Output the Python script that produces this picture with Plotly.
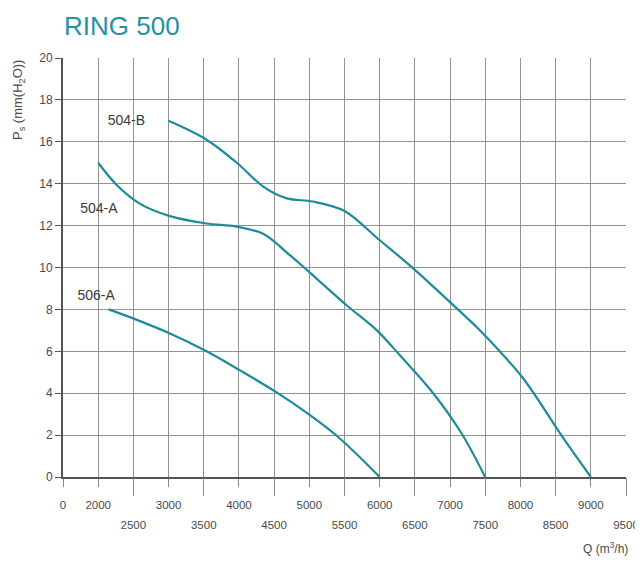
import plotly.graph_objects as go

# ---------------- data ----------------
title_text = "RING 500"

q_504b = [3000, 3540, 3970, 4350, 4680, 5050, 5500, 6000, 6480, 6950, 7380, 7540, 8040, 8600, 9000]
p_504b = [17.0, 16.1, 15.0, 13.85, 13.3, 13.15, 12.7, 11.3, 9.95, 8.5, 7.15, 6.6, 4.7, 1.9, 0.0]

q_504a = [2000, 2260, 2590, 3020, 3540, 3970, 4350, 4720, 4960, 5530, 5960, 6290, 6760, 7160, 7500]
p_504a = [15.0, 13.95, 13.05, 12.45, 12.1, 11.95, 11.6, 10.6, 9.9, 8.2, 7.0, 5.8, 4.0, 2.1, 0.0]

q_506a = [2150, 2550, 3020, 3540, 4010, 4530, 5010, 5430, 6000]
p_506a = [8.0, 7.5, 6.85, 6.0, 5.1, 4.05, 2.95, 1.85, 0.0]

label_names = ["504-B", "504-A", "506-A"]
label_q = [2400, 2010, 1970]
label_p = [16.95, 12.75, 8.6]

x_row1_vals = [1500, 2000, 3000, 4000, 5000, 6000, 7000, 8000, 9000]
x_row1_text = ["0", "2000", "3000", "4000", "5000", "6000", "7000", "8000", "9000"]
x_row2_vals = [2500, 3500, 4500, 5500, 6500, 7500, 8500, 9500]
x_row2_text = ["2500", "3500", "4500", "5500", "6500", "7500", "8500", "9500"]
y_tick_vals = [0, 2, 4, 6, 8, 10, 12, 14, 16, 18, 20]

x_range = [1500, 9500]
y_range = [0, 20]

# ---------------- style ----------------
teal = "#1d8c98"
title_col = "#2592a2"
txt = "#4a4a4a"
grid = "#939393"
axis_col = "#555555"
font_main = "Liberation Sans, Arial, sans-serif"

fig = go.Figure()
for q, p in [(q_504b, p_504b), (q_504a, p_504a), (q_506a, p_506a)]:
    fig.add_trace(go.Scatter(x=q, y=p, mode="lines",
                             line=dict(color=teal, width=2.2, shape="spline", smoothing=0.95),
                             showlegend=False, hoverinfo="skip"))

fig.add_trace(go.Scatter(x=label_q, y=label_p, mode="text", text=label_names,
                         textfont=dict(family=font_main, size=14, color="#3a3a3a"),
                         showlegend=False, hoverinfo="skip"))

# invisible trace to activate secondary x axis
fig.add_trace(go.Scatter(x=[x_range[0]], y=[0], xaxis="x2", mode="markers",
                         marker=dict(opacity=0), showlegend=False, hoverinfo="skip"))

fig.update_layout(
    width=635, height=555,
    margin=dict(l=55, r=17, t=50, b=86),
    paper_bgcolor="white", plot_bgcolor="white",
    font=dict(family=font_main, color=txt, size=12),
    xaxis=dict(range=x_range, tickmode="array", tickvals=x_row1_vals, ticktext=x_row1_text,
               automargin=False,
               ticks="outside", ticklen=8, tickcolor="#8a8a8a", tickwidth=1,
               ticklabelstandoff=8,
               showgrid=True, gridcolor=grid, gridwidth=1,
               showline=True, linecolor=axis_col, linewidth=2,
               zeroline=False, tickfont=dict(size=11.5, color=txt)),
    xaxis2=dict(range=x_range, overlaying="x", anchor="y", side="bottom",
                automargin=False,
                tickmode="array", tickvals=x_row2_vals, ticktext=x_row2_text,
                ticks="outside", ticklen=18, tickcolor="#8a8a8a", tickwidth=1,
                ticklabelstandoff=19,
                showgrid=True, gridcolor=grid, gridwidth=1,
                showline=False, zeroline=False, tickfont=dict(size=11.5, color=txt)),
    yaxis=dict(range=y_range, tickmode="array", tickvals=y_tick_vals,
               automargin=False,
               ticks="outside", ticklen=6, tickcolor=axis_col, tickwidth=1,
               showgrid=True, gridcolor=grid, gridwidth=1,
               showline=True, linecolor=axis_col, linewidth=2,
               zeroline=False, tickfont=dict(size=12, color=txt)),
    annotations=[
        dict(text=title_text, xref="paper", yref="paper", x=-0.002, y=1.035,
             xanchor="left", yanchor="bottom", showarrow=False,
             font=dict(family=font_main, size=26, color=title_col)),
        dict(text="P<sub>s</sub> (mm(H<sub>2</sub>O))", xref="paper", yref="paper",
             x=-0.08, y=1.0, xanchor="center", yanchor="top", textangle=-90,
             showarrow=False, font=dict(family=font_main, size=13, color=txt)),
        dict(text="Q (m<sup>3</sup>/h)", xref="paper", yref="paper",
             x=1.0, y=-0.17, xanchor="right", yanchor="middle", xshift=4,
             showarrow=False, font=dict(family=font_main, size=12, color=txt)),
    ],
)

fig.write_html("out.html")
